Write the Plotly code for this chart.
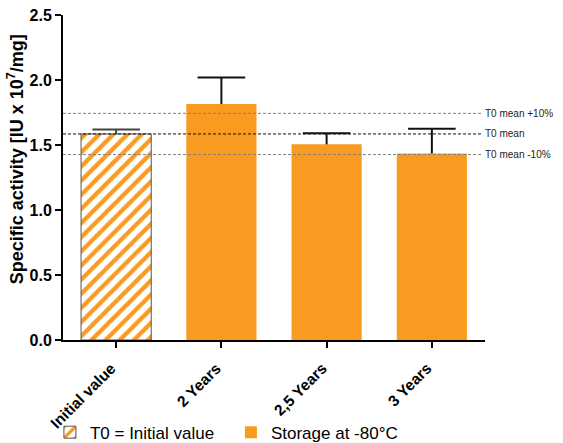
import plotly.graph_objects as go

categories = ["Initial value", "2 Years", "2,5 Years", "3 Years"]
initial_value = [1.585]
initial_err = [0.035]
storage_cats = ["2 Years", "2,5 Years", "3 Years"]
storage_values = [1.815, 1.505, 1.435]
storage_err = [0.205, 0.085, 0.19]
ref_labels = ["T0 mean +10%", "T0 mean", "T0 mean -10%"]

orange = "#F99A21"
mean = initial_value[0]
ref_vals = [mean * 1.1, mean, mean * 0.9]
ref_colors = ["#808080", "#111111", "#808080"]
ref_dash = ["3px,2px", "3px,2px", "3px,2px"]

fig = go.Figure()
fig.add_trace(go.Bar(
    x=["Initial value"], y=initial_value, width=0.667,
    name="T0 = Initial value",
    marker=dict(color="white", line=dict(color="#555555", width=1),
                pattern=dict(shape="/", fgcolor=orange, bgcolor="white", fgopacity=1,
                             size=10, solidity=0.42)),
    error_y=dict(type="data", symmetric=False, array=initial_err, arrayminus=[0],
                 color="#444444", thickness=2, width=0),
))
fig.add_trace(go.Bar(
    x=storage_cats, y=storage_values, width=0.667,
    name="Storage at -80°C",
    marker=dict(color=orange, line=dict(width=0)),
    error_y=dict(type="data", symmetric=False, array=storage_err, arrayminus=[0, 0, 0],
                 color="#111111", thickness=2, width=0),
))
# upper caps of the error bars
fig.add_trace(go.Scatter(
    x=["Initial value"], y=[v + e for v, e in zip(initial_value, initial_err)],
    mode="markers", showlegend=False, hoverinfo="skip",
    marker=dict(symbol="line-ew-open", size=34, color="#444444",
                line=dict(color="#444444", width=2)),
))
fig.add_trace(go.Scatter(
    x=storage_cats, y=[v + e for v, e in zip(storage_values, storage_err)],
    mode="markers", showlegend=False, hoverinfo="skip",
    marker=dict(symbol="line-ew-open", size=34, color="#111111",
                line=dict(color="#111111", width=2)),
))

for v, lab, c, d in zip(ref_vals, ref_labels, ref_colors, ref_dash):
    fig.add_shape(type="line", xref="paper", yref="y", x0=0, x1=0.995, y0=v, y1=v,
                  line=dict(color=c, width=1, dash=d), layer="above")
    fig.add_annotation(xref="paper", yref="y", x=1.0, y=v, text=lab, showarrow=False,
                       xanchor="left", xshift=-2, font=dict(size=10, color="#222222"))

# rotated category labels
for cat in categories:
    fig.add_annotation(xref="x", yref="y", x=cat, y=0, text=cat, showarrow=False,
                       textangle=-45, xanchor="right", yanchor="top",
                       xshift=6, yshift=-17,
                       font=dict(size=15.5, weight="bold", color="black"))

# y-axis title
fig.add_annotation(xref="paper", yref="paper", x=-0.112, y=0.555,
                   text="Specific activity [IU x 10<sup>7</sup>/mg]", showarrow=False,
                   textangle=-90, xanchor="center", yanchor="middle",
                   font=dict(size=18, weight="bold", color="black"))

fig.update_layout(
    width=563, height=443,
    margin=dict(l=63, r=78, t=15, b=103, autoexpand=False),
    plot_bgcolor="white", paper_bgcolor="white",
    barmode="overlay",
    font=dict(family="Liberation Sans, Arial, sans-serif", color="black"),
    showlegend=True,
    legend=dict(orientation="h", x=-0.031, y=-0.285, xanchor="left", yanchor="middle",
                font=dict(size=17), entrywidth=136, traceorder="normal"),
    xaxis=dict(categoryorder="array", categoryarray=categories, range=[-0.505, 3.505],
               showline=True, linecolor="black", linewidth=2, ticks="outside",
               ticklen=6, tickwidth=2, tickcolor="black",
               showticklabels=False, automargin=False,
               showgrid=False, zeroline=False),
    yaxis=dict(range=[0, 2.5], dtick=0.5, tickformat=".1f",
               showline=True, linecolor="black", linewidth=2, ticks="outside",
               ticklen=6, tickwidth=2, tickcolor="black",
               tickfont=dict(size=16, weight="bold"), automargin=False,
               showgrid=False, zeroline=False),
)

fig.write_html("out.html", config={"displayModeBar": False},
               post_script="document.body.style.margin='0';document.body.style.overflow='hidden';")
